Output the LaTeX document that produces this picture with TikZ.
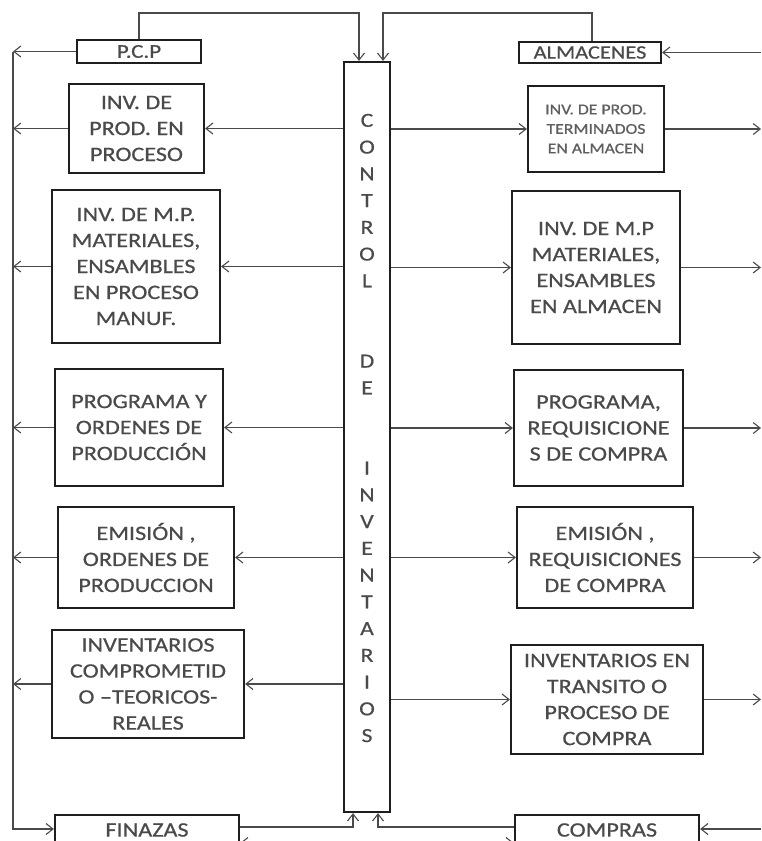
\documentclass[tikz,border=0pt]{standalone}
\usepackage{fontspec}
\setmainfont{Carlito}[FakeStretch=1.18,FakeBold=0.6]
\usetikzlibrary{arrows.meta}
\definecolor{txt}{HTML}{4A4A4A}
\definecolor{txtl}{HTML}{5E5E5E}
\definecolor{bord}{HTML}{1E1E1E}
\definecolor{conn}{HTML}{4A4A4A}
\tikzset{
  boxn/.style={draw=bord, line width=2.2pt, text=txt, align=center, inner sep=0pt,
    font=\fontsize{20.5}{26}\selectfont},
  smallbox/.style={boxn, text=txtl, font=\fontsize{15}{19.5}\selectfont},
  arr/.style={draw=conn, line width=1.1pt, -{Straight Barb[length=7pt,width=11pt,line width=1.1pt]}},
  arrb/.style={draw=conn, line width=1.1pt, {Straight Barb[length=7pt,width=11pt,line width=1.1pt]}-{Straight Barb[length=7pt,width=11pt,line width=1.1pt]}},
  ln/.style={draw=conn, line width=1.1pt}
}
\begin{document}
\begin{tikzpicture}[x=1pt,y=-1pt]
\useasboundingbox (0,0) rectangle (761,841);
\clip (0,0) rectangle (761,841);
\fill[white] (0,0) rectangle (761,841);
% central column
\node[draw=bord, line width=2.2pt, minimum width=46pt, minimum height=750pt, inner sep=0pt] (ctrl) at (367,437) {};
\node[text=txt, align=center, inner sep=0pt, font=\fontsize{20}{26.75}\selectfont] (ctrltxt) at (367,428)
  {C\\O\\N\\T\\R\\O\\L\\~\\~\\D\\E\\~\\~\\I\\N\\V\\E\\N\\T\\A\\R\\I\\O\\S};
% left boxes
\node[boxn, minimum width=124pt, minimum height=23pt, font=\fontsize{19.5}{22}\selectfont] (pcp) at (139,51.5) {P.C.P};
\node[boxn, minimum width=135pt, minimum height=89pt] (l1) at (136.5,128.5) {INV. DE\\PROD. EN\\PROCESO};
\node[boxn, minimum width=168pt, minimum height=153pt] (l2) at (136,266.5) {INV. DE M.P.\\MATERIALES,\\ENSAMBLES\\EN PROCESO\\MANUF.};
\node[boxn, minimum width=168pt, minimum height=117pt] (l3) at (139,427.5) {PROGRAMA Y\\ORDENES DE\\PRODUCCIÓN};
\node[boxn, minimum width=176pt, minimum height=101pt] (l4) at (146,557.5) {EMISIÓN ,\\ORDENES DE\\PRODUCCION};
\node[boxn, minimum width=192pt, minimum height=108pt] (l5) at (148,684) {INVENTARIOS\\COMPROMETID\\O –TEORICOS-\\REALES};
\node[boxn, minimum width=184pt, minimum height=30pt] (fin) at (147,830) {FINAZAS};
% right boxes
\node[boxn, minimum width=142pt, minimum height=21pt, font=\fontsize{19}{22}\selectfont] (alm) at (590,52.5) {ALMACENES};
\node[smallbox, minimum width=136pt, minimum height=86pt] (r1) at (596,129) {INV. DE PROD.\\TERMINADOS\\EN ALMACEN};
\node[boxn, minimum width=168pt, minimum height=153pt] (r2) at (596,267.5) {INV. DE M.P\\MATERIALES,\\ENSAMBLES\\EN ALMACEN};
\node[boxn, minimum width=169pt, minimum height=116pt] (r3) at (598.5,428) {PROGRAMA,\\REQUISICIONE\\S DE COMPRA};
\node[boxn, minimum width=176pt, minimum height=101pt] (r4) at (605,557.5) {EMISIÓN ,\\REQUISICIONES\\DE COMPRA};
\node[boxn, minimum width=192pt, minimum height=109pt] (r5) at (607,699.5) {INVENTARIOS EN\\TRANSITO O\\PROCESO DE\\COMPRA};
\node[boxn, minimum width=184pt, minimum height=30pt] (comp) at (607,830) {COMPRAS};
% helper coordinates
\coordinate (lbar) at (13,0);
\coordinate (rbar) at (761,0);
\coordinate (topy) at (0,13);
\coordinate (ct1) at ([xshift=-8pt]ctrl.north);
\coordinate (ct2) at ([xshift=16pt]ctrl.north);
\coordinate (cb1) at ([xshift=-14pt]ctrl.south);
\coordinate (cb2) at ([xshift=11pt]ctrl.south);
\coordinate (finw) at ([yshift=1pt]fin.west);
\coordinate (fine) at ([yshift=3pt]fin.east);
\coordinate (compw) at ([yshift=3pt]comp.west);
\coordinate (compe) at ([yshift=1pt]comp.east);
% top loops
\draw[arr] (pcp.north) -- (pcp.north |- topy) -- (ct1 |- topy) -- (ct1);
\draw[arr] ([xshift=2pt]alm.north) -- ([xshift=2pt]alm.north |- topy) -- (ct2 |- topy) -- (ct2);
% left bus
\draw[arr] (pcp.west) -- (lbar |- pcp.west);
\draw[arr] (lbar |- pcp.west) -- (lbar |- finw) -- (finw);
\foreach \b in {l1,l2,l3,l4,l5}{
  \draw[arr] (ctrl.west |- \b.east) -- (\b.east);
  \draw[arr] (\b.west) -- (lbar |- \b.west);
}
% right side
\foreach \b in {r1,r2,r3,r4,r5}{
  \draw[arr] (ctrl.east |- \b.west) -- (\b.west);
  \draw[arr] (\b.east) -- (rbar |- \b.east);
}
\draw[arr] (rbar |- alm.east) -- (alm.east);
\draw[arr] (rbar |- compe) -- (compe);
% bottom into control
\draw[arr] (fine) -- (cb1 |- fine) -- (cb1);
\draw[arr] (compw) -- (cb2 |- compw) -- (cb2);
\draw[arrb] ([yshift=-13pt]fin.east) -- ([yshift=-13pt]comp.west);
\end{tikzpicture}
\end{document}
